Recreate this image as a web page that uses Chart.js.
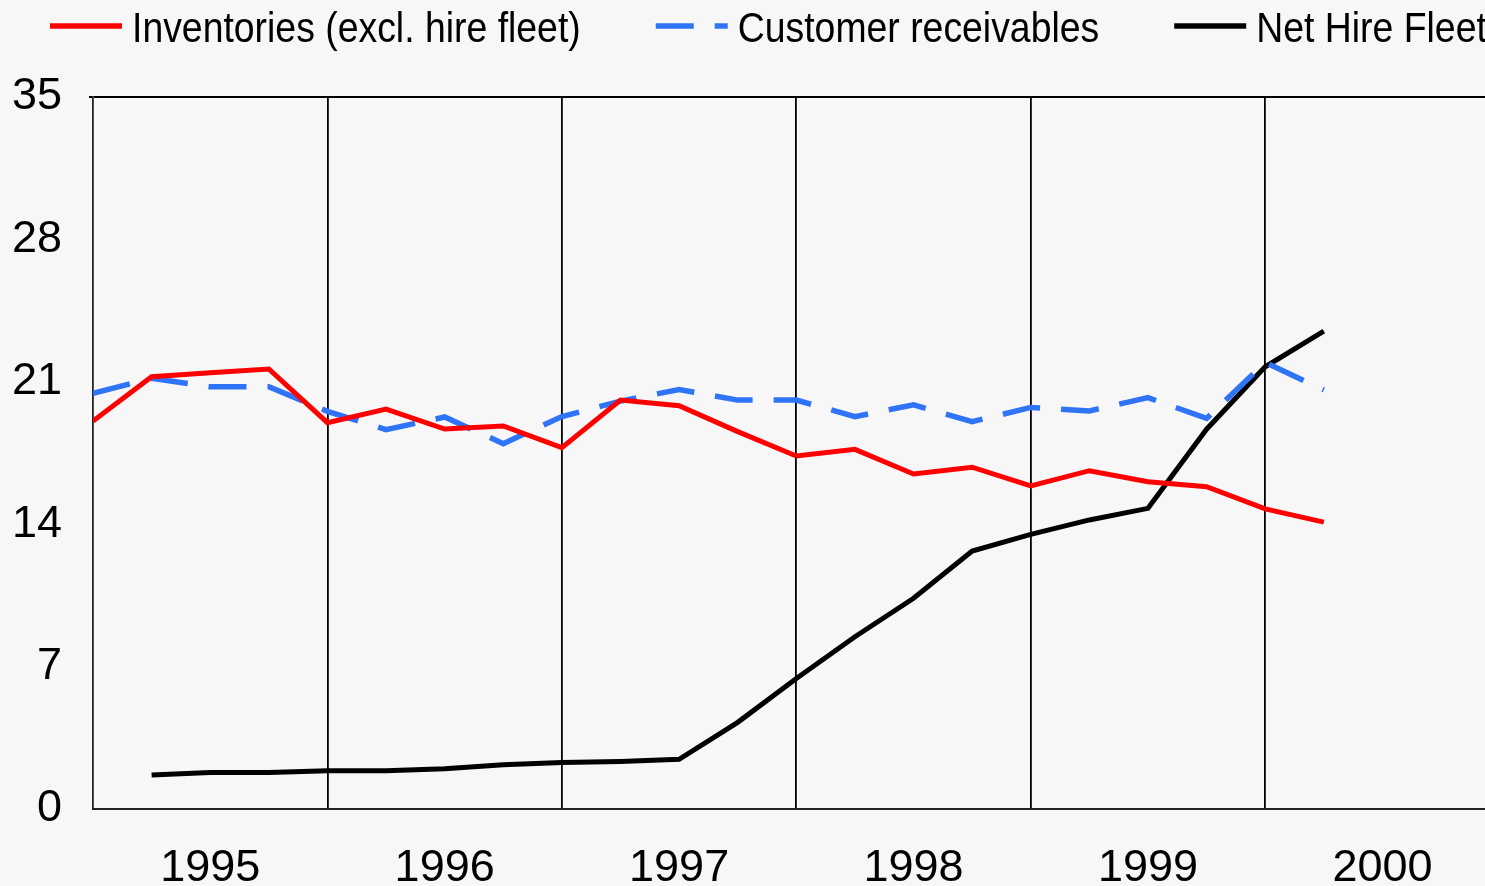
<!DOCTYPE html>
<html>
<head>
<meta charset="utf-8">
<script src="https://cdn.jsdelivr.net/npm/chart.js@4.4.1/dist/chart.umd.min.js"></script>
<style>
  html, body { margin: 0; padding: 0; background: #f7f7f7; }
</style>
</head>
<body>
<canvas id="chart" width="1485" height="886"></canvas>
<script>
// quarter ends, first point sits on the y axis
const quarters = [
  'Dec-94', 'Mar-95', 'Jun-95', 'Sep-95', 'Dec-95', 'Mar-96', 'Jun-96', 'Sep-96',
  'Dec-96', 'Mar-97', 'Jun-97', 'Sep-97', 'Dec-97', 'Mar-98', 'Jun-98', 'Sep-98',
  'Dec-98', 'Mar-99', 'Jun-99', 'Sep-99', 'Dec-99', 'Mar-00', 'Jun-00'
];
const years = ['1995', '1996', '1997', '1998', '1999', '2000'];
const yTicks = [0, 7, 14, 21, 28, 35];

const inventories = [19.07, 21.25, 21.45, 21.63, 18.99, 19.66, 18.68, 18.83, 17.76, 20.1, 19.82,
  18.55, 17.35, 17.68, 16.47, 16.8, 15.88, 16.63, 16.09, 15.84, 14.75, 14.1];
const receivables = [20.43, 21.17, 20.76, 20.76, 19.55, 18.65, 19.27, 17.96, 19.29, 20.05, 20.62,
  20.1, 20.1, 19.29, 19.87, 19.04, 19.74, 19.57, 20.22, 19.2, 21.95, 20.6];
const hireFleet = [null, 1.67, 1.79, 1.79, 1.88, 1.88, 1.98, 2.18, 2.28, 2.34, 2.44,
  4.26, 6.42, 8.47, 10.36, 12.68, 13.5, 14.21, 14.78, 18.67, 21.74, 23.49];

const sans = '"Liberation Sans", Arial, sans-serif';

function toPoints(values) {
  return values.map((v, i) => ({ x: i, y: v }));
}

// legend drawn by hand: short line sample, tight gap, then a condensed label
const lineLegend = {
  id: 'lineLegend',
  afterDraw(chart) {
    const ctx = chart.ctx;
    const squeeze = 0.89;
    let x = 50;
    ctx.save();
    ctx.font = '42px ' + sans;
    ctx.textBaseline = 'alphabetic';
    chart.data.datasets.forEach(ds => {
      ctx.beginPath();
      ctx.setLineDash(ds.borderDash || []);
      ctx.lineWidth = 5.5;
      ctx.strokeStyle = ds.borderColor;
      ctx.moveTo(x, 26);
      ctx.lineTo(x + 72, 26);
      ctx.stroke();
      ctx.setLineDash([]);

      ctx.save();
      ctx.translate(x + 82, 42);
      ctx.scale(squeeze, 1);
      ctx.fillStyle = '#000';
      ctx.fillText(ds.label, 0, 0);
      ctx.restore();

      x += 82 + ctx.measureText(ds.label).width * squeeze + 75;
    });
    ctx.restore();
  }
};

new Chart(document.getElementById('chart'), {
  type: 'line',
  data: {
    datasets: [
      {
        label: 'Inventories (excl. hire fleet)',
        data: toPoints(inventories),
        borderColor: '#ff0000',
        borderWidth: 5
      },
      {
        label: 'Customer receivables',
        data: toPoints(receivables),
        borderColor: '#2f74f6',
        borderWidth: 5.5,
        borderDash: [38, 21]
      },
      {
        label: 'Net Hire Fleet',
        data: toPoints(hireFleet),
        borderColor: '#000000',
        borderWidth: 5
      }
    ]
  },
  options: {
    responsive: false,
    animation: false,
    elements: { point: { radius: 0 }, line: { tension: 0 } },
    layout: { padding: { top: 97, left: 0, right: 0, bottom: 0 } },
    plugins: { legend: { display: false }, tooltip: { enabled: false } },
    scales: {
      x: {
        type: 'linear',
        min: 0,
        max: 23.75,
        afterBuildTicks: scale => {
          scale.ticks = years.map(yr => ({ value: quarters.indexOf('Jun-' + yr.slice(2)) }));
        },
        afterFit: scale => { scale.height = 77; },
        grid: { display: false },
        border: { display: true, color: '#222', width: 2 },
        ticks: {
          autoSkip: false,
          maxRotation: 0,
          padding: 25,
          color: '#000',
          font: { family: sans, size: 45 },
          callback: (v, i) => years[i]
        }
      },
      xGrid: {
        type: 'linear',
        position: 'top',
        min: 0,
        max: 23.75,
        afterBuildTicks: scale => {
          scale.ticks = quarters
            .map((q, i) => ({ q, i }))
            .filter(d => d.q.startsWith('Dec') && d.i > 0)
            .map(d => ({ value: d.i }));
        },
        grid: { color: '#000', lineWidth: 1.8, drawTicks: false },
        border: { display: false },
        ticks: { display: false }
      },
      y: {
        min: 0,
        max: 35,
        afterBuildTicks: scale => { scale.ticks = yTicks.map(v => ({ value: v })); },
        afterFit: scale => { scale.width = 93; },
        grid: {
          color: c => (c.tick && c.tick.value === 35 ? '#000' : 'transparent'),
          lineWidth: 2,
          tickLength: 4
        },
        border: { display: true, color: '#222', width: 1.8 },
        ticks: {
          padding: 27,
          color: '#000',
          font: { family: sans, size: 45 }
        }
      }
    }
  },
  plugins: [lineLegend]
});
</script>
</body>
</html>
